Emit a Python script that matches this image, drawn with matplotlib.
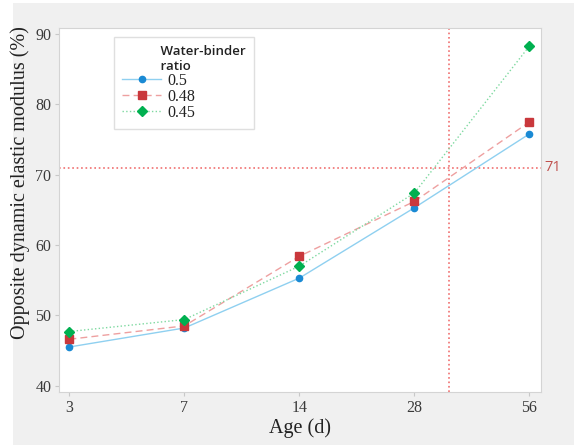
import matplotlib
matplotlib.use("Agg")
import matplotlib.pyplot as plt
import numpy as np
from matplotlib.patches import Rectangle
from matplotlib.font_manager import FontProperties

ages = ["3", "7", "14", "28", "56"]
x = np.arange(len(ages))

wb_050 = [45.5, 48.2, 55.3, 65.3, 75.8]
wb_048 = [46.6, 48.5, 58.4, 66.2, 77.5]
wb_045 = [47.7, 49.4, 57.0, 67.4, 88.3]

ref_y = 71
ref_x = 3.30  # position between 28 and 56 on the category axis

serif = ["Liberation Serif", "DejaVu Serif"]
sans = ["Open Sans", "DejaVu Sans"]

fig = plt.figure(figsize=(5.74, 4.46), dpi=100)
fig.patch.set_facecolor("white")
fig.add_artist(Rectangle((13 / 574, 0.003), 1 - 13 / 574, 1 - 0.003 - 3 / 446,
                         transform=fig.transFigure, facecolor="#f0f0f0",
                         edgecolor="none", zorder=0))

ax = fig.add_axes([59 / 574, 54 / 446, (541 - 59) / 574, (392 - 28) / 446])
ax.set_facecolor("white")

ax.plot(x, wb_050, "-", color="#8fd0f0", linewidth=1.0, marker="o",
        markersize=4.5, markerfacecolor="#1a8ad4", markeredgecolor="#1a8ad4",
        label="0.5", zorder=3)
ax.plot(x, wb_048, "--", color="#eea0a0", linewidth=1.0, marker="s",
        markersize=5.5, markerfacecolor="#c9383c", markeredgecolor="#c9383c",
        dashes=(5, 3), label="0.48", zorder=3)
ax.plot(x, wb_045, ":", color="#7ed9a0", linewidth=1.0, marker="D",
        markersize=5.5, markerfacecolor="#00b050", markeredgecolor="#00b050",
        label="0.45", zorder=3)

ax.axhline(ref_y, color="#f07070", linestyle=":", linewidth=1.2, zorder=2)
ax.axvline(ref_x, color="#f07070", linestyle=":", linewidth=1.2, zorder=2)
ax.text(1.008, ref_y, "71", transform=ax.get_yaxis_transform(), color="#c0504d",
        fontsize=10.5, va="center", ha="left", family=sans)

ax.set_xlim(-0.09, 4.1)
ax.set_ylim(39.1, 90.85)
ax.set_xticks(x)
ax.set_xticklabels(ages, fontsize=11.5, family=serif)
ax.set_yticks([40, 50, 60, 70, 80, 90])
ax.set_yticklabels(["40", "50", "60", "70", "80", "90"], fontsize=11.5, family=serif)
ax.tick_params(direction="out", length=3, pad=2.5, color="#c8c8c8",
               labelcolor="#3a3a3a")

for s in ax.spines.values():
    s.set_color("#d4d4d4")
    s.set_linewidth(0.8)

ax.set_xlabel("Age (d)", fontsize=14.5, family=serif, color="#222222")
ax.xaxis.set_label_coords(0.5, -0.072)
ax.set_ylabel("Opposite dynamic elastic modulus (%)", fontsize=14.5, family=serif,
              color="#222222")
ax.yaxis.set_label_coords(-0.06, 0.575)

title_pad = " " * 11
leg = ax.legend(title=title_pad + "Water-binder\n" + title_pad + "ratio",
                loc="upper left", bbox_to_anchor=(0.115, 0.975), borderaxespad=0,
                frameon=True, fancybox=False, edgecolor="#d8d8d8",
                prop=FontProperties(family=serif, size=11.5),
                title_fontproperties=FontProperties(family=sans, size=9.5,
                                                    weight="semibold"),
                handlelength=2.4, handletextpad=0.4, labelspacing=0.0,
                borderpad=0.5, alignment="left", labelcolor="#222222")
leg.get_title().set_color("#222222")

fig.savefig("out.png", dpi=100, facecolor=fig.get_facecolor())
